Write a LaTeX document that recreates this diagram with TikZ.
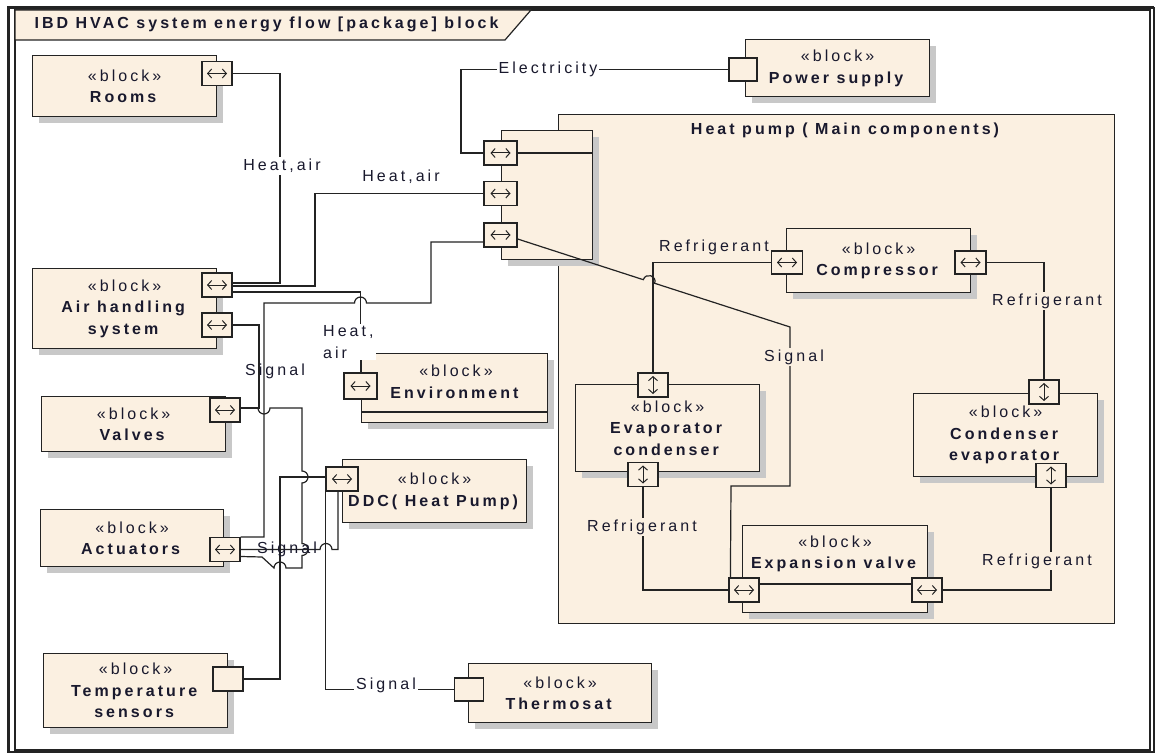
\documentclass[tikz,border=0pt]{standalone}
\usepackage{fontspec}
\newfontfamily\lbl{Liberation Sans}[LetterSpace=19]
\newcommand\lblfont{\lbl\fontsize{16}{21.5}\selectfont}
\usetikzlibrary{shadows,arrows.meta}
\definecolor{beige}{RGB}{251,240,225}
\definecolor{shade}{RGB}{200,200,200}
\definecolor{ln}{RGB}{35,35,35}
\definecolor{txt}{RGB}{25,25,45}
\begin{document}
\begin{tikzpicture}[x=1pt,y=-1pt,
  lab/.style={font=\lblfont, text=txt, inner sep=1pt},
  tag/.style={lab, fill=white, inner sep=2pt},
  tagb/.style={lab, fill=beige, inner sep=2pt},
  block/.style={draw=ln, fill=beige, line width=1.3pt, inner sep=0pt, anchor=north west, align=center, font=\lblfont, text=txt,
    drop shadow={shadow xshift=6pt, shadow yshift=-6pt, fill=shade, opacity=1}},
  part/.style={draw=ln, fill=beige, line width=1.3pt, inner sep=0pt, anchor=north west},
  portbox/.style={draw=ln, fill=beige, line width=1.2pt, inner sep=0pt, minimum width=30pt, minimum height=24pt},
  tip/.style={line width=1pt, {Straight Barb[length=4pt,width=9pt]}-{Straight Barb[length=4pt,width=9pt]}},
  hport/.style={portbox, path picture={\draw[tip] ([xshift=-10pt]path picture bounding box.center) -- ([xshift=10pt]path picture bounding box.center);}},
  vport/.style={portbox, path picture={\draw[tip] ([yshift=-9pt]path picture bounding box.center) -- ([yshift=9pt]path picture bounding box.center);}},
  wire/.style={draw=ln, line width=1.2pt}
]
\useasboundingbox (0,0) rectangle (1157,754);
% frame
\draw[ln, line width=1.2pt] (8,8) rectangle (1154,752);
\draw[ln, line width=1.2pt] (15,10) rectangle (1150,750);
\draw[ln, line width=3pt] (7,8) -- (1154,8);
\draw[ln, line width=3pt] (8,8) -- (8,752);
\draw[ln, fill=beige, line width=1.2pt] (15,10) -- (531,10) -- (505,40) -- (15,40) -- cycle;
\node[anchor=west, font=\lblfont\bfseries, text=txt] (title) at (31,24) {IBD HVAC system energy flow [package] block};

% heat pump container
\node[part, minimum width=556pt, minimum height=509pt] (hp) at (558,114) {};
\node[font=\lblfont\bfseries, text=txt] (hptitle) at (845,130) {Heat pump ( Main components)};
\node[block, minimum width=91pt, minimum height=129pt] (hpbox) at (501,130) {};

% blocks
\node[block, minimum width=184pt, minimum height=61pt] (rooms) at (32,55) {«block»\\\textbf{Rooms}};
\node[block, minimum width=184pt, minimum height=80pt] (ahs) at (32,268) {«block»\\\textbf{Air handling}\\\textbf{system}};
\node[block, minimum width=184pt, minimum height=55pt] (valves) at (41,396) {«block»\\\textbf{Valves}};
\node[block, minimum width=183pt, minimum height=57pt] (act) at (40,509) {«block»\\\textbf{Actuators}};
\node[block, minimum width=184pt, minimum height=74pt] (temp) at (43,653) {«block»\\\textbf{Temperature}\\\textbf{sensors}};
\node[block, minimum width=184pt, minimum height=63pt] (ddc) at (342,459) {«block»\\\textbf{DDC( Heat Pump)}};
\node[block, minimum width=183pt, minimum height=59pt] (thermo) at (468,663) {«block»\\\textbf{Thermosat}};
\node[block, minimum width=186pt, minimum height=69pt] (env) at (361,353) {};
\node[lab, align=center] (envtxt) at (456,382) {«block»\\\textbf{Environment}};
\draw[ln, line width=1.3pt] (361,412) -- (547,412);
\node[block, minimum width=184pt, minimum height=57pt] (power) at (745,39) {«block»\\\textbf{Power supply}};
\node[block, minimum width=184pt, minimum height=64pt] (comp) at (786,228) {«block»\\\textbf{Compressor}};
\node[block, minimum width=184pt, minimum height=87pt] (evap) at (575,384) {«block»\\\textbf{Evaporator}\\\textbf{condenser}};
\node[block, minimum width=184pt, minimum height=83pt] (cond) at (913,393) {«block»\\\textbf{Condenser}\\\textbf{evaporator}};
\node[block, minimum width=185pt, minimum height=87pt] (exp) at (742,525) {};
\node[lab, align=center] (exptxt) at (835,554) {«block»\\\textbf{Expansion valve}};
\draw[ln, line width=1.3pt] (742,584) -- (927,584);

% ports
\node[hport] (roomsP) at (217,73.5) {};
\node[hport] (ahsP1) at (217,285) {};
\node[hport] (ahsP2) at (217,325) {};
\node[hport] (valvesP) at (225,410) {};
\node[hport] (actP) at (225,549.5) {};
\node[portbox] (tempP) at (228,679) {};
\node[hport, minimum width=32pt] (ddcP) at (342,479) {};
\node[portbox, minimum width=29pt, minimum height=23pt] (thermoP) at (469,689.5) {};
\node[hport, minimum width=33pt, minimum height=26pt] (envP) at (360.5,386) {};
\node[portbox, minimum width=28pt, minimum height=23pt] (powerP) at (743,69.5) {};
\node[hport, minimum width=33pt] (hpP1) at (500.5,153) {};
\node[hport, minimum width=33pt] (hpP2) at (500.5,193.5) {};
\node[hport, minimum width=33pt] (hpP3) at (500.5,235) {};
\node[hport, minimum width=31pt, minimum height=23pt] (compL) at (787,262.5) {};
\node[hport, minimum width=31pt, minimum height=23pt] (compR) at (970.5,262.5) {};
\node[vport] (evapT) at (653,385) {};
\node[vport] (evapB) at (643,474.5) {};
\node[vport] (condT) at (1044,392) {};
\node[vport] (condB) at (1051,475.5) {};
\node[hport] (expL) at (744,590) {};
\node[hport] (expR) at (927,590) {};

% connectors
\draw[wire] (roomsP.east) -| (280,283) -- ([yshift=2pt]ahsP1.east);
\draw[wire] ([yshift=-1pt]ahsP1.east) -| (315,193.5) -- (hpP2.west);
\draw[wire] ([yshift=-7pt]ahsP1.east) -| (envP.north);
\draw[wire] ([yshift=-7pt]hpP3.west) -- (431,242) -- (431,303) -- (366.5,303)
   arc[start angle=0,end angle=180,radius=6pt] -- (264,303) -- (264,537) -- (actP.north east);
\draw[wire] (ahsP2.east) -| (259,408) -- ([yshift=2pt]valvesP.east);
\draw[wire] ([yshift=2pt]valvesP.east) -- (258,408) arc[start angle=180,end angle=360,radius=6pt]
   -- (302,408) -- (302,471) arc[start angle=90,end angle=-90,radius=6pt]
   -- (302,543.5) arc[start angle=90,end angle=-90,radius=6pt]
   -- (302,568) -- (286,568) arc[start angle=0,end angle=180,radius=6pt]
   -- (262,557) -- ([yshift=-7pt]actP.east);
\draw[wire] (actP.east) -- (320,549.5) arc[start angle=180,end angle=0,radius=6pt] -- (338,549.5) -- (338,491);
\draw[wire] (tempP.east) -- (280,679) |- ([yshift=2pt]ddcP.west);
\draw[wire] (ddcP.south west) |- (thermoP.west);
\draw[wire] (hpP1.west) -| (461,69.5) -- (powerP.west);
\draw[wire] (hpP1.east) -- (hpP1.east -| hpbox.east);
\draw[wire] ([yshift=-4pt]hpP3.east) -- (643.3,279.7) .. controls (645.8,272.1) and (657.2,275.7) .. (654.7,283.3)
   -- (790,327) -- (790,486) -- (731,486) -- ([xshift=2pt]expL.north west);
\draw[wire] (compL.west) -| (evapT.north);
\draw[wire] (compR.east) -| (condT.north);
\draw[wire] (evapB.south) |- (expL.west);
\draw[wire] (condB.south) |- (expR.east);

% labels
\node[tag] (l1) at (282,166) {Heat,air};
\node[lab] (l2) at (401,177) {Heat,air};
\node[tag, align=left, anchor=west] (l3) at (321,342) {Heat,\\air};
\node[lab] (l4) at (275,371) {Signal};
\node[lab] (l5) at (287,549) {Signal};
\node[tag] (l6) at (386,685) {Signal};
\node[tag] (l7) at (548,69) {Electricity};
\node[lab] (l8) at (714,247) {Refrigerant};
\node[tagb] (l9) at (1047,301) {Refrigerant};
\node[tagb] (l10) at (794,357) {Signal};
\node[tagb] (l11) at (642,527) {Refrigerant};
\node[tagb] (l12) at (1037,561) {Refrigerant};
\end{tikzpicture}
\end{document}
